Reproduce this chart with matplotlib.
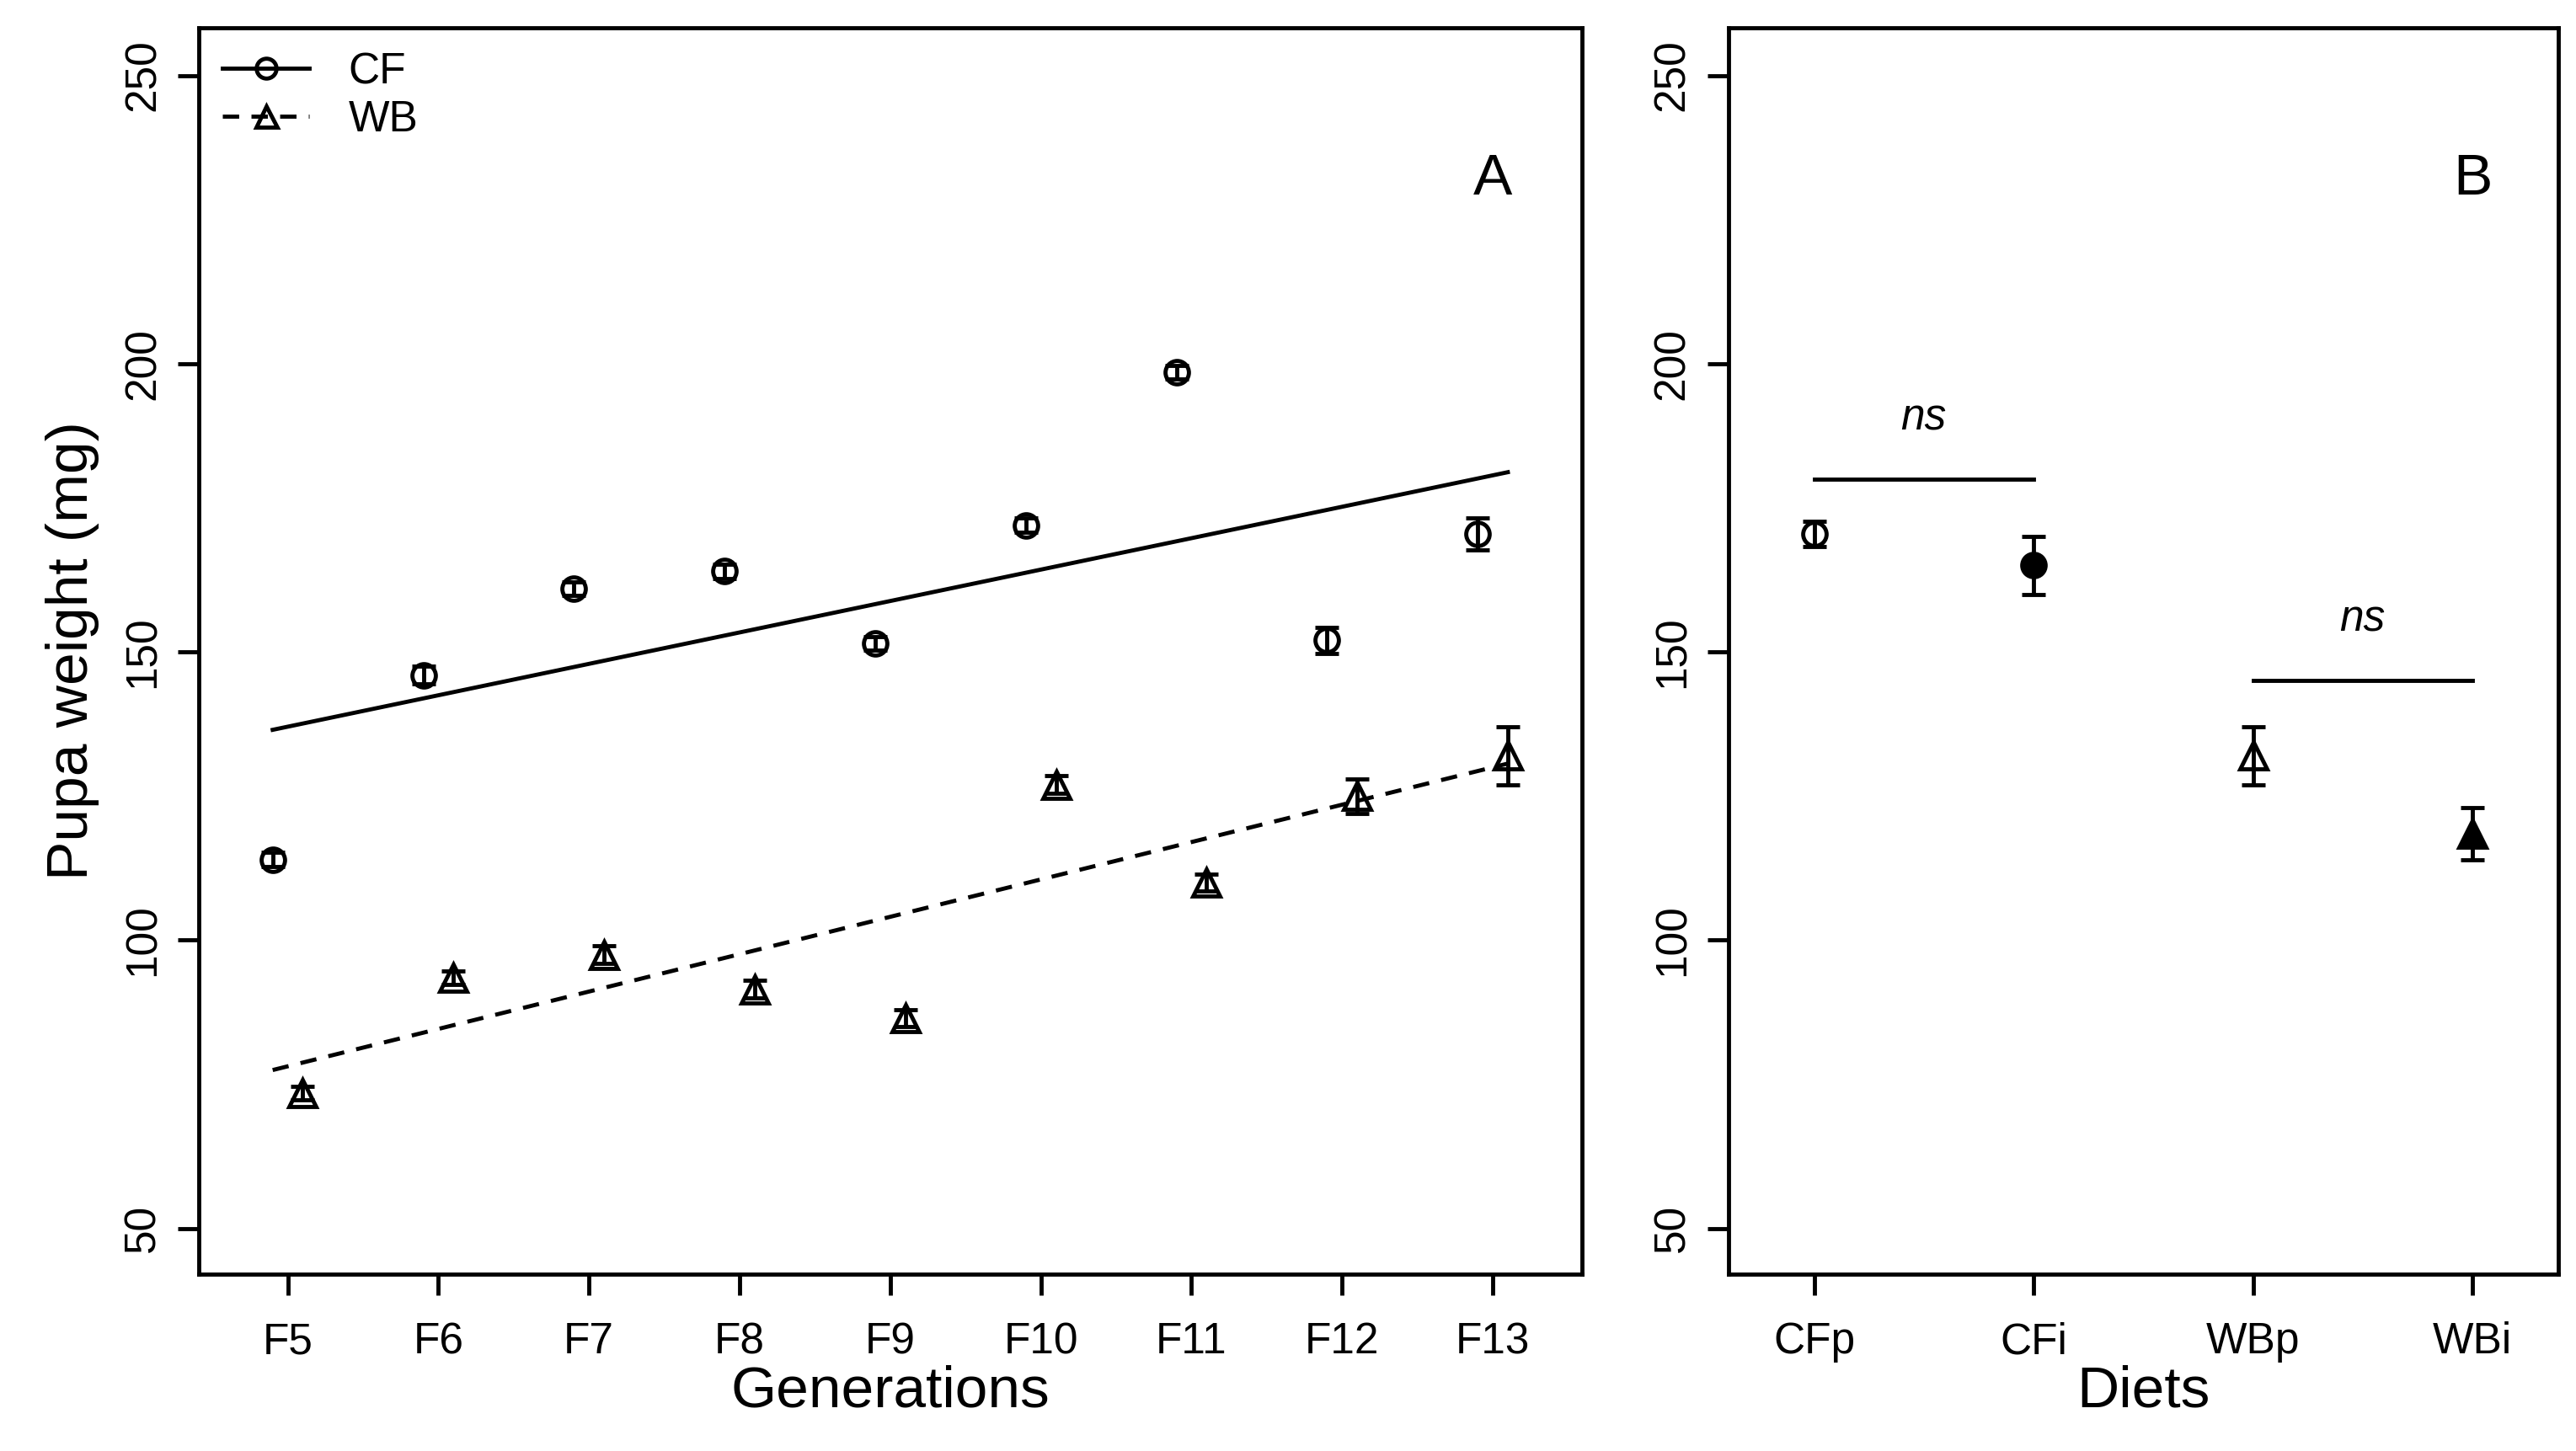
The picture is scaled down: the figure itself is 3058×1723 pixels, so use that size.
import numpy as np
import matplotlib
matplotlib.use("Agg")
import matplotlib.pyplot as plt
from matplotlib.lines import Line2D

plt.rcParams["font.family"] = "Liberation Sans"

gens = ["F5", "F6", "F7", "F8", "F9", "F10", "F11", "F12", "F13"]
gen_x = np.arange(5, 14)
cf_mean = [114, 146, 161, 164, 151.5, 172, 198.5, 152, 170.5]
cf_err = [1.2, 1.5, 1.2, 1.2, 1.2, 1.2, 1.2, 2.2, 2.8]
wb_mean = [73.5, 93.5, 97.5, 91.5, 86.5, 127, 110, 125, 132]
wb_err = [1.2, 1.2, 1.5, 1.5, 1.5, 1.5, 1.5, 3.0, 5.0]

diets = ["CFp", "CFi", "WBp", "WBi"]
diet_mean = [170.5, 165, 132, 118.5]
diet_err = [2.2, 5.0, 5.0, 4.5]

fig = plt.figure(figsize=(30.58, 17.23), dpi=100)
axA = fig.add_axes([0.0772, 0.1216, 0.5368, 0.8594])
axB = fig.add_axes([0.671, 0.1216, 0.322, 0.8594])

lw = 3.5
ms = 20
for ax in (axA, axB):
    ax.set_ylim(42, 258.3)
    ax.set_yticks([50, 100, 150, 200, 250])
    ax.set_yticklabels(["50", "100", "150", "200", "250"], rotation=90, va="center")
    ax.tick_params(axis="both", labelsize=37, width=lw, length=18, direction="out")
    ax.tick_params(axis="y", pad=12)
    ax.tick_params(axis="x", pad=22)
    for s in ax.spines.values():
        s.set_linewidth(lw)

ekw = dict(elinewidth=lw, capsize=10, capthick=lw, color="black", linestyle="none")
axA.errorbar(gen_x - 0.1, cf_mean, yerr=cf_err, marker="o", ms=ms, mfc="none", mew=lw, **ekw)
axA.errorbar(gen_x + 0.1, wb_mean, yerr=wb_err, marker="^", ms=ms + 3, mfc="none", mew=lw, **ekw)
xl = np.array([4.9, 13.1])
p_cf = np.polyfit(gen_x, cf_mean, 1)
p_wb = np.polyfit(gen_x, wb_mean, 1)
axA.plot(xl, np.polyval(p_cf, xl), color="black", lw=lw)
axA.plot(xl, np.polyval(p_wb, xl), color="black", lw=lw, ls=(0, (4, 3)))
axA.set_xlim(4.41, 13.59)
axA.set_xticks(gen_x)
axA.set_xticklabels(gens)
axA.set_xlabel("Generations", fontsize=50, labelpad=2)
axA.set_ylabel("Pupa weight (mg)", fontsize=50, labelpad=20)
axA.text(13.0, 232, "A", fontsize=50, ha="center", va="center")
h = [Line2D([], [], color="black", lw=lw, marker="o", ms=17, mfc="none", mew=lw),
     Line2D([], [], color="black", lw=lw, ls=(0, (4, 3)), marker="^", ms=18, mfc="none", mew=lw)]
axA.legend(h, ["CF", "WB"], loc="upper left", frameon=False, fontsize=37,
           handlelength=2.0, borderaxespad=0.15, labelspacing=0.15, handletextpad=0.9)

bx = np.arange(1, 5)
markers = ["o", "o", "^", "^"]
fills = ["none", "black", "none", "black"]
for x, m, e, mk, fc in zip(bx, diet_mean, diet_err, markers, fills):
    axB.errorbar([x], [m], yerr=[e], marker=mk, ms=ms if mk == "o" else ms + 3,
                 mfc=fc, mew=lw, **ekw)
axB.plot([1, 2], [180, 180], color="black", lw=lw)
axB.plot([3, 4], [145, 145], color="black", lw=lw)
axB.text(1.5, 190.5, "ns", fontsize=37, style="italic", ha="center", va="center")
axB.text(3.5, 155.5, "ns", fontsize=37, style="italic", ha="center", va="center")
axB.text(4.0, 232, "B", fontsize=50, ha="center", va="center")
axB.set_xlim(0.61, 4.39)
axB.set_xticks(bx)
axB.set_xticklabels(diets)
axB.set_xlabel("Diets", fontsize=50, labelpad=2)

fig.savefig("out.png", dpi=100)
